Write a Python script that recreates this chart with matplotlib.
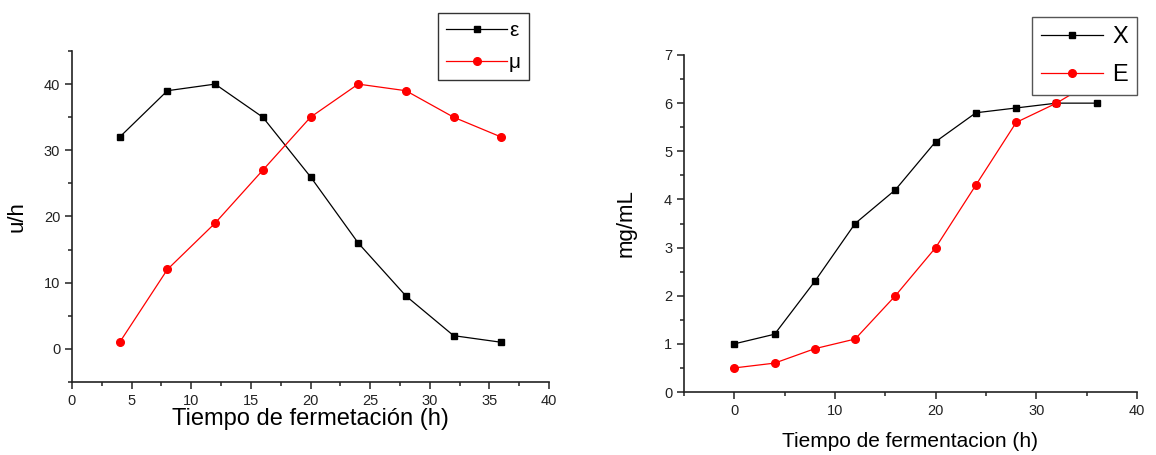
#!/usr/bin/env python3
"""Fermentation kinetics: specific rates and concentrations vs time."""

import matplotlib
matplotlib.use('Agg')
import matplotlib.pyplot as plt
from matplotlib.ticker import MultipleLocator

plt.rcParams['font.family'] = ['Liberation Sans', 'DejaVu Sans']

# left panel: specific rates
t_rates = [4, 8, 12, 16, 20, 24, 28, 32, 36]
eps = [32, 39, 40, 35, 26, 16, 8, 2, 1]
mu = [1, 12, 19, 27, 35, 40, 39, 35, 32]

# right panel: concentrations
t_conc = [0, 4, 8, 12, 16, 20, 24, 28, 32, 36]
biomass_x = [1.0, 1.2, 2.3, 3.5, 4.2, 5.2, 5.8, 5.9, 6.0, 6.0]
enzyme_e = [0.5, 0.6, 0.9, 1.1, 2.0, 3.0, 4.3, 5.6, 6.0, 6.5]

W, H = 1156, 455
fig = plt.figure(figsize=(W / 100, H / 100), dpi=100)


def px_axes(x0, y0, x1, y1):
    return fig.add_axes([x0 / W, 1 - y1 / H, (x1 - x0) / W, (y1 - y0) / H])


def style(ax):
    for s in ('top', 'right'):
        ax.spines[s].set_visible(False)
    for s in ('left', 'bottom'):
        ax.spines[s].set_linewidth(1.2)
        ax.spines[s].set_color('#222222')
    ax.tick_params(which='major', direction='out', length=5, width=1.1,
                   labelsize=10.5, colors='#222222')
    ax.tick_params(which='minor', direction='out', length=3, width=1.1,
                   colors='#222222')


# ---- left
ax1 = px_axes(72, 51, 549, 382)
ax1.plot(t_rates, eps, color='black', lw=0.9, marker='s', ms=5, label='ε')
ax1.plot(t_rates, mu, color='red', lw=0.9, marker='o', ms=5.5, label='μ')
ax1.set_xlim(0, 40)
ax1.set_ylim(-5, 45)
ax1.xaxis.set_major_locator(MultipleLocator(5))
ax1.xaxis.set_minor_locator(MultipleLocator(2.5))
ax1.yaxis.set_major_locator(MultipleLocator(10))
ax1.yaxis.set_minor_locator(MultipleLocator(5))
style(ax1)
ax1.set_xlabel('Tiempo de fermetación (h)', fontsize=17, labelpad=0)
ax1.set_ylabel('u/h', fontsize=16, labelpad=12)
leg1 = ax1.legend(loc='upper left', bbox_to_anchor=(438 / W, 1 - 13 / H),
                  bbox_transform=fig.transFigure, fontsize=15,
                  handlelength=2.9, handletextpad=0.1, borderpad=0.4,
                  labelspacing=0.6, fancybox=False, framealpha=1,
                  edgecolor='#333333', borderaxespad=0)
leg1.get_frame().set_linewidth(1.0)

# ---- right
ax2 = px_axes(684, 55, 1137, 392)
ax2.plot(t_conc, biomass_x, color='black', lw=0.9, marker='s', ms=5,
         label='X')
ax2.plot(t_conc, enzyme_e, color='red', lw=0.9, marker='o', ms=5.5, label='E')
ax2.set_xlim(-5, 40)
ax2.set_ylim(0, 7)
ax2.xaxis.set_major_locator(MultipleLocator(10))
ax2.xaxis.set_minor_locator(MultipleLocator(5))
ax2.yaxis.set_major_locator(MultipleLocator(1))
ax2.yaxis.set_minor_locator(MultipleLocator(0.5))
style(ax2)
ax2.set_xlabel('Tiempo de fermentacion (h)', fontsize=15, labelpad=10)
ax2.set_ylabel('mg/mL', fontsize=16, labelpad=20)
leg2 = ax2.legend(loc='upper left', bbox_to_anchor=(1032 / W, 1 - 17 / H),
                  bbox_transform=fig.transFigure, fontsize=17,
                  handlelength=2.6, handletextpad=0.4, borderpad=0.4,
                  labelspacing=0.65, fancybox=False, framealpha=1,
                  edgecolor='#555555', borderaxespad=0)
leg2.get_frame().set_linewidth(1.0)

fig.savefig('out.png', dpi=100)
